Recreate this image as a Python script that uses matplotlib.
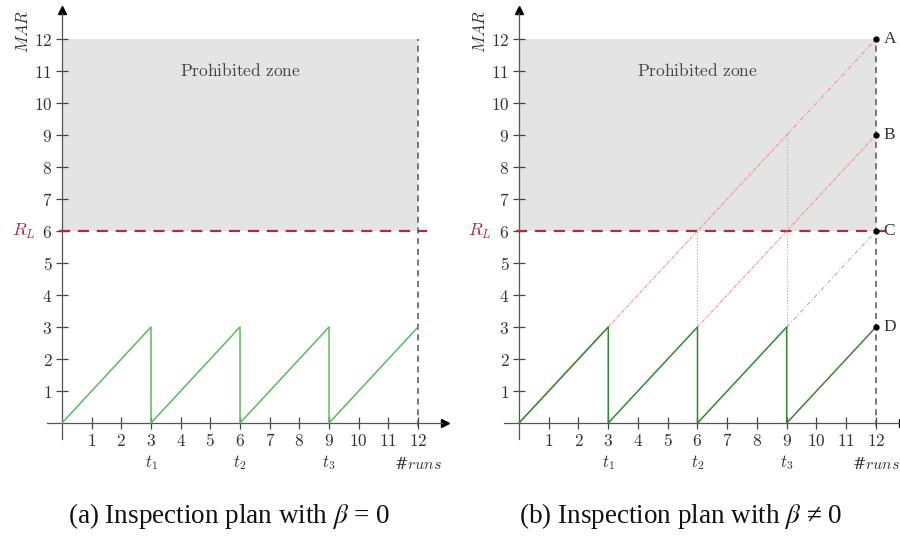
import numpy as np
import matplotlib.pyplot as plt

plt.rcParams['mathtext.fontset'] = 'cm'
plt.rcParams['font.family'] = 'DejaVu Serif'

# data
ticks = [1, 2, 3, 4, 5, 6, 7, 8, 9, 10, 11, 12]
saw_x = [0, 3, 3, 6, 6, 9, 9, 12]
saw_y = [0, 3, 0, 3, 0, 3, 0, 3]
t_pos = [3, 6, 9]
t_labels = ['$t_1$', '$t_2$', '$t_3$']
r_limit = 6
y_max = 12
end_points = [12, 9, 6, 3]
end_names = ['A', 'B', 'C', 'D']
captions = ['(a) Inspection plan with $\\beta$ = 0', '(b) Inspection plan with $\\beta$ \u2260 0']

W, H = 900, 537
fig = plt.figure(figsize=(9, 5.37), dpi=100)

def panel(x0, unit):
    left = (x0 - 0.5 * unit) / W
    ax = fig.add_axes([left, 94.8 / H, 13.5 * unit / W, 435.2 / H])
    ax.set_xlim(-0.5, 13.0)
    ax.set_ylim(-0.6, 13.0)
    ax.patch.set_alpha(0)
    for s in ['top', 'right']:
        ax.spines[s].set_visible(False)
    ax.spines['left'].set_position(('data', 0))
    ax.spines['bottom'].set_position(('data', 0))
    ax.spines['left'].set_bounds(-0.5, 12.8)
    ax.spines['bottom'].set_bounds(-0.5, 12.8)
    for s in ['left', 'bottom']:
        ax.spines[s].set_color('#555555')
        ax.spines[s].set_linewidth(0.9)
    ax.plot(12.9, 0, marker='>', color='k', ms=6, clip_on=False)
    ax.plot(0, 12.9, marker='^', color='k', ms=6, clip_on=False)
    ax.set_xticks(ticks)
    ax.set_xticklabels([f'${t}$' for t in ticks])
    ax.set_yticks(ticks)
    ax.set_yticklabels([f'${t}$' for t in ticks])
    ax.tick_params(direction='inout', length=8, width=0.9, color='#444444',
                   labelsize=12.5, labelcolor='#333333', pad=3)
    ax.fill_between([0, 12], r_limit, y_max, color='#e4e4e4', lw=0, zorder=0)
    ax.text(6, 11, r'$\mathrm{Prohibited\ zone}$', ha='center', va='center',
            fontsize=12.5, color='#444444')
    ax.plot([-0.1, 12.3], [r_limit, r_limit], color='#a83038', lw=1.6,
            dashes=(5, 3.5), zorder=3)
    ax.plot([12, 12], [-0.1, y_max], color='#555555', lw=1.1, dashes=(4, 3), zorder=3)
    ax.text(-1.3, r_limit, '$R_L$', color='#b03040', fontsize=13, ha='center', va='center')
    ax.text(-1.3, 12.25, '$MAR$', rotation=90, fontsize=12, ha='center', va='center',
            color='#333333')
    for p, lab in zip(t_pos, t_labels):
        ax.text(p, -1.25, lab, ha='center', va='center', fontsize=12, color='#333333')
    ax.text(11.2, -1.3, '#$runs$', ha='left', va='center', fontsize=11.5, color='#333333')
    return ax

axa = panel(62, 29.67)
axa.plot(saw_x, saw_y, color='#5cba5c', lw=1.1, zorder=4)

axb = panel(519, 29.75)
light_red = '#f29090'
axb.plot([0, 3], [0, 3], color=light_red, lw=0.9, zorder=3)
axb.plot([3, 9], [3, 9], color=light_red, lw=0.8, ls=(0, (3, 1, 1, 1)), zorder=3)
axb.plot([9, 12], [9, 12], color=light_red, lw=0.8, ls=(0, (4, 2, 1, 2)), zorder=3)
axb.plot([6, 12], [3, 9], color=light_red, lw=0.8, ls=(0, (3, 1, 1, 1)), zorder=3)
axb.plot([9, 12], [3, 6], color='#a8b8a8', lw=0.8, ls=(0, (4, 2, 1, 2)), zorder=3)
axb.plot([6, 6], [3, 6], color=light_red, lw=0.8, ls=':', zorder=3)
axb.plot([9, 9], [3, 9], color=light_red, lw=0.8, ls=':', zorder=3)
axb.plot(saw_x, saw_y, color='#2f8a2f', lw=1.1, zorder=4)
axb.plot([9, 12], [0, 3], color='#b06060', lw=0.5, ls=':', zorder=5)
axb.plot([12] * 4, end_points, 'o', color='k', ms=3.5, zorder=6, clip_on=False)
for yv, nm in zip(end_points, end_names):
    axb.text(12.25, yv, nm, ha='left', va='center', fontsize=12.5, color='#333333',
             family='Liberation Serif')

for cx, cap in zip([229, 681], captions):
    fig.text(cx / W, 1 - 516 / H, cap, ha='center', va='center', fontsize=19.5,
             family='Liberation Serif', math_fontfamily='stix', color='#111111')

fig.savefig('out.png', dpi=100)
